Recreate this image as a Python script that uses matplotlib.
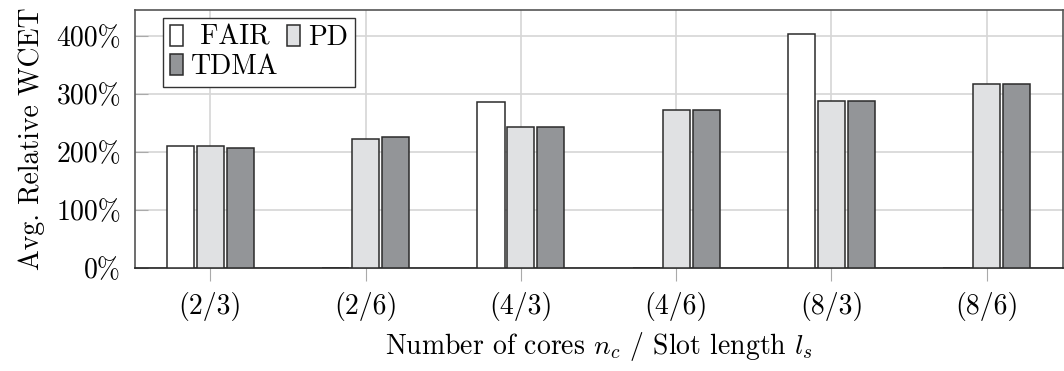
import numpy as np
import matplotlib.pyplot as plt
from matplotlib.ticker import FuncFormatter

plt.rcParams['font.family'] = 'serif'
plt.rcParams['font.serif'] = ['cmr10']
plt.rcParams['mathtext.fontset'] = 'cm'
plt.rcParams['axes.formatter.use_mathtext'] = True
plt.rcParams['axes.unicode_minus'] = False

# dados
configs = ['(2/3)', '(2/6)', '(4/3)', '(4/6)', '(8/3)', '(8/6)']
fair = [211, 0, 286, 0, 404, 0]
pd_vals = [210, 223, 244, 273, 288, 318]
tdma = [208, 226, 244, 273, 288, 318]

x = np.arange(len(configs))
w = 0.175
off = 0.193
fs = 20

fig = plt.figure(figsize=(10.64, 3.71), dpi=100)
ax = fig.add_axes([0.1269, 0.2776, 0.872, 0.696])

edge = '#2b2b2b'
b1 = ax.bar(x - off, fair, w, color='white', edgecolor=edge, linewidth=1.1, zorder=3)
b2 = ax.bar(x, pd_vals, w, color='#e0e1e3', edgecolor=edge, linewidth=1.1, zorder=3)
b3 = ax.bar(x + off, tdma, w, color='#939598', edgecolor=edge, linewidth=1.1, zorder=3)

ax.set_xlim(-0.485, 5.49)
ax.set_ylim(0, 446)
ax.set_xticks(x)
ax.set_xticklabels(configs, fontsize=fs)
ax.set_yticks([0, 100, 200, 300, 400])
ax.yaxis.set_major_formatter(FuncFormatter(lambda v, p: f'{v:.0f}%'))
ax.tick_params(axis='y', labelsize=fs, direction='in', length=9, color='#aaaaaa', pad=10)
ax.tick_params(axis='x', direction='out', length=9, color='#aaaaaa', pad=8)
ax.grid(True, color='#d6d6d6', linewidth=1.2, zorder=0)
ax.set_axisbelow(True)
for s in ax.spines.values():
    s.set_color('#555555')
    s.set_linewidth(1.2)
ax.spines['bottom'].set_color('#222222')

ax.set_xlabel('Number of cores $n_c$ / Slot length $l_s$', fontsize=fs, labelpad=7)
ax.set_ylabel('Avg. Relative WCET', fontsize=fs, labelpad=8)

leg = ax.legend([b1, b3, b2], [' FAIR', 'TDMA', 'PD'], ncol=2, loc='upper left',
                bbox_to_anchor=(0.03, 0.97), fontsize=fs, frameon=True, fancybox=False,
                edgecolor='#333333', framealpha=1, handlelength=0.47, handleheight=0.8,
                handletextpad=0.3, columnspacing=0.3, borderpad=0.25, labelspacing=0.12,
                borderaxespad=0)
leg.get_frame().set_linewidth(1.0)

plt.savefig('out.png', dpi=100)
